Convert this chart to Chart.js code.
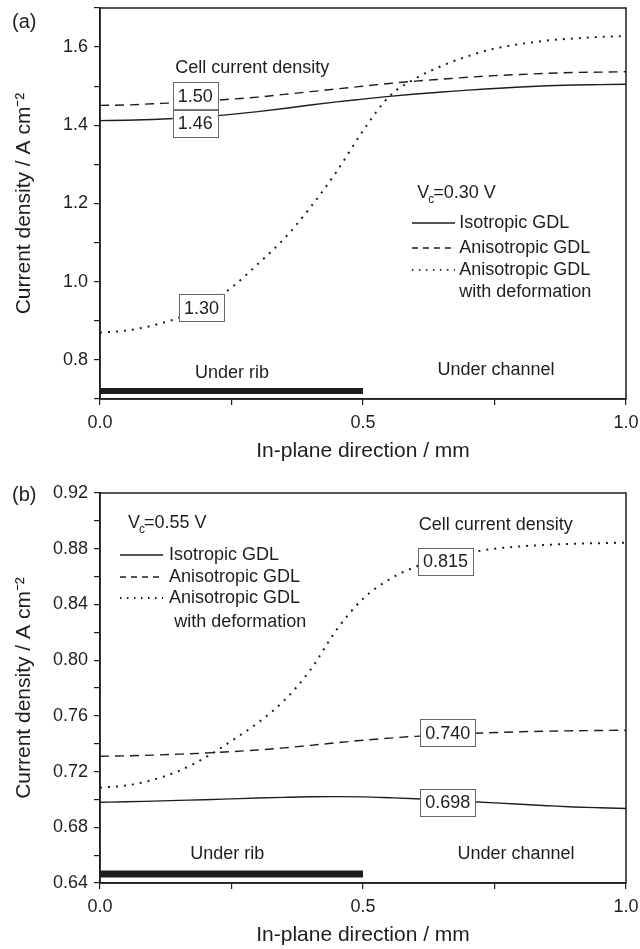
<!DOCTYPE html>
<html>
<head>
<meta charset="utf-8">
<script src="https://cdn.jsdelivr.net/npm/chart.js@4.4.0/dist/chart.umd.min.js"></script>
<style>
    html, body { margin: 0; padding: 0; background: #fff; }
    .panel { position: absolute; left: 0; width: 640px; }
    #wrapA { top: 0; height: 475px; }
    #wrapB { top: 475px; height: 474px; }
</style>
</head>
<body>
<div class="panel" id="wrapA"><canvas id="chartA" width="640" height="475"></canvas></div>
<div class="panel" id="wrapB"><canvas id="chartB" width="640" height="474"></canvas></div>
<script>
// in-plane position (mm), shared by every curve
var xPos = [0, 0.05, 0.1, 0.15, 0.2, 0.25, 0.3, 0.35, 0.4, 0.45, 0.5,
            0.55, 0.6, 0.65, 0.7, 0.75, 0.8, 0.85, 0.9, 0.95, 1.0];

// (a) Vc = 0.30 V
var isoA = [1.412, 1.413, 1.415, 1.418, 1.422, 1.428, 1.435, 1.443, 1.452, 1.460, 1.467,
            1.474, 1.480, 1.485, 1.490, 1.494, 1.498, 1.501, 1.503, 1.504, 1.505];
var anisoA = [1.451, 1.452, 1.455, 1.458, 1.462, 1.467, 1.472, 1.479, 1.486, 1.493, 1.500,
              1.507, 1.513, 1.518, 1.523, 1.527, 1.530, 1.533, 1.535, 1.536, 1.537];
var deformA = [0.870, 0.875, 0.888, 0.908, 0.940, 0.985, 1.045, 1.110, 1.190, 1.282, 1.386,
               1.474, 1.520, 1.552, 1.577, 1.596, 1.608, 1.617, 1.622, 1.626, 1.628];

// (b) Vc = 0.55 V
var isoB = [0.6980, 0.6983, 0.6988, 0.6993, 0.6998, 0.7004, 0.7010, 0.7015, 0.7019, 0.7020, 0.7018,
            0.7012, 0.7005, 0.6995, 0.6985, 0.6975, 0.6965, 0.6955, 0.6946, 0.6940, 0.6935];
var anisoB = [0.7310, 0.7313, 0.7318, 0.7325, 0.7333, 0.7343, 0.7355, 0.7370, 0.7388, 0.7407, 0.7425,
              0.7440, 0.7453, 0.7464, 0.7473, 0.7480, 0.7486, 0.7490, 0.7493, 0.7495, 0.7497];
var deformB = [0.7085, 0.7100, 0.7140, 0.7205, 0.7300, 0.7420, 0.7550, 0.7710, 0.7930, 0.8220, 0.8440,
               0.8580, 0.8670, 0.8730, 0.8770, 0.8800, 0.8817, 0.8828, 0.8835, 0.8840, 0.8843];

// rib region (mm)
var ribX = [0, 0.5];

// cell-average values shown in boxes
var cellA = ['1.50', '1.46', '1.30'];
var cellB = ['0.815', '0.740', '0.698'];

var seriesNames = ['Isotropic GDL', 'Anisotropic GDL', 'Anisotropic GDL', 'with deformation'];

var INK = '#1e1e1e';
var FONT = '"Liberation Sans", Arial, sans-serif';

function pts(ys) {
    return xPos.map(function(x, i) { return { x: x, y: ys[i] }; });
}

// frame, labels, boxes and the hand-placed legend
var notesPlugin = {
    id: 'notes',
    afterDatasetsDraw: function(chart, args, opts) {
        var ctx = chart.ctx;
        var xs = chart.scales.x, ys = chart.scales.y;
        var a = chart.chartArea;
        ctx.save();
        ctx.strokeStyle = INK;
        ctx.lineWidth = 1.5;
        ctx.setLineDash([]);
        ctx.strokeRect(a.left, a.top, a.right - a.left, a.bottom - a.top);

        ctx.fillStyle = INK;
        ctx.textBaseline = 'middle';
        (opts.items || []).forEach(function(it) {
            var px = it.px !== undefined ? it.px : xs.getPixelForValue(it.x);
            var py = it.py !== undefined ? it.py : ys.getPixelForValue(it.y);
            ctx.font = (it.size || 18) + 'px ' + FONT;
            if (it.type === 'text') {
                ctx.textAlign = it.align || 'left';
                ctx.fillText(it.text, px, py);
            } else if (it.type === 'box') {
                var tw = ctx.measureText(it.text).width;
                var w = tw + 10, h = 27;
                ctx.fillStyle = '#fff';
                ctx.fillRect(px - w / 2, py - h / 2, w, h);
                ctx.strokeStyle = '#666';
                ctx.lineWidth = 1;
                ctx.strokeRect(Math.round(px - w / 2) + 0.5, Math.round(py - h / 2) + 0.5, Math.round(w), h);
                ctx.fillStyle = INK;
                ctx.textAlign = 'center';
                ctx.fillText(it.text, px, py + 1);
            } else if (it.type === 'volt') {
                ctx.textAlign = 'left';
                ctx.fillText('V', px, py);
                var vw = ctx.measureText('V').width;
                ctx.font = '12px ' + FONT;
                ctx.fillText('c', px + vw - 1, py + 7);
                var cw = ctx.measureText('c').width;
                ctx.font = (it.size || 18) + 'px ' + FONT;
                ctx.fillText(it.text, px + vw + cw - 2, py);
            } else if (it.type === 'key') {
                if (it.dash) {
                    ctx.strokeStyle = INK;
                    ctx.lineWidth = it.w || 1.4;
                    ctx.setLineDash(it.dash);
                    ctx.beginPath();
                    ctx.moveTo(xs.getPixelForValue(it.x0), py);
                    ctx.lineTo(xs.getPixelForValue(it.x1), py);
                    ctx.stroke();
                    ctx.setLineDash([]);
                }
                ctx.textAlign = 'left';
                ctx.fillText(it.text, px, py);
            }
        });
        ctx.restore();
    }
};

var DASH_SOLID = [];
var DASH_DASHED = [9, 6];
var DASH_DOTTED = [2, 6];

function makePanel(id, cfg) {
    var datasets = [
        { data: pts(cfg.iso), borderDash: DASH_SOLID },
        { data: pts(cfg.aniso), borderDash: DASH_DASHED },
        { data: pts(cfg.deform), borderDash: DASH_DOTTED, borderWidth: 2 },
        { data: ribX.map(function(x) { return { x: x, y: cfg.ribY }; }),
          borderWidth: cfg.ribWidth, borderDash: [], cubicInterpolationMode: 'default' }
    ];
    datasets.forEach(function(d) {
        d.borderColor = INK;
        d.backgroundColor = INK;
        if (d.borderWidth === undefined) d.borderWidth = 1.4;
        d.pointRadius = 0;
        d.fill = false;
        d.borderCapStyle = 'butt';
        if (!d.cubicInterpolationMode) d.cubicInterpolationMode = 'monotone';
    });

    return new Chart(document.getElementById(id), {
        type: 'line',
        data: { datasets: datasets },
        plugins: [notesPlugin],
        options: {
            responsive: false,
            animation: false,
            layout: { padding: { top: cfg.padTop, right: 14, left: 0, bottom: 0 } },
            plugins: {
                legend: { display: false },
                tooltip: { enabled: false },
                notes: { items: cfg.items }
            },
            scales: {
                x: {
                    type: 'linear',
                    min: 0, max: 1,
                    afterFit: function(s) { s.height = cfg.xHeight; s.paddingLeft = 0; s.paddingRight = 0; },
                    grid: { drawOnChartArea: false, drawTicks: true, tickLength: 6, color: INK, lineWidth: 1.2 },
                    border: { display: true, color: INK, width: 1.5 },
                    ticks: {
                        stepSize: 0.25, padding: 7, color: INK, maxRotation: 0,
                        font: { family: FONT, size: 18 },
                        callback: function(v, i) { return i % 2 === 0 ? v.toFixed(1) : ''; }
                    },
                    title: {
                        display: true, text: 'In-plane direction / mm', color: INK,
                        font: { family: FONT, size: 21 },
                        padding: { top: 0, bottom: cfg.xTitlePad }
                    }
                },
                y: {
                    type: 'linear',
                    min: cfg.yMin, max: cfg.yMax,
                    afterFit: function(s) { s.width = 100; s.paddingTop = 0; s.paddingBottom = 0; },
                    grid: { drawOnChartArea: false, drawTicks: true, tickLength: 6, color: INK, lineWidth: 1.2 },
                    border: { display: true, color: INK, width: 1.5 },
                    ticks: {
                        stepSize: cfg.yStep, padding: 6, color: INK,
                        font: { family: FONT, size: 18 },
                        callback: function(v, i) { return i % 2 === cfg.labelParity ? v.toFixed(cfg.digits) : ''; }
                    },
                    title: {
                        display: true, text: 'Current density / A cm\u207B\u00B2', color: INK,
                        font: { family: FONT, size: 21 },
                        padding: { top: 12, bottom: 0 }
                    }
                }
            }
        }
    });
}

makePanel('chartA', {
    iso: isoA, aniso: anisoA, deform: deformA,
    ribY: 0.7205, ribWidth: 6,
    yMin: 0.7, yMax: 1.7, yStep: 0.1, digits: 1, labelParity: 1,
    padTop: 8, xHeight: 76, xTitlePad: 11,
    items: [
        { type: 'text', text: '(a)', px: 12, py: 22, size: 20 },
        { type: 'text', text: 'Cell current density', x: 0.143, y: 1.547 },
        { type: 'box', text: cellA[0], x: 0.181, y: 1.475 },
        { type: 'box', text: cellA[1], x: 0.181, y: 1.405 },
        { type: 'box', text: cellA[2], x: 0.193, y: 0.933 },
        { type: 'volt', text: '=0.30 V', x: 0.603, y: 1.227 },
        { type: 'key', text: seriesNames[0], dash: DASH_SOLID, x0: 0.593, x1: 0.675, x: 0.683, y: 1.150 },
        { type: 'key', text: seriesNames[1], dash: [6, 5], x0: 0.593, x1: 0.675, x: 0.683, y: 1.086 },
        { type: 'key', text: seriesNames[2], dash: [1.5, 5.5], w: 1.8, x0: 0.593, x1: 0.675, x: 0.683, y: 1.030 },
        { type: 'key', text: seriesNames[3], x: 0.683, y: 0.974 },
        { type: 'text', text: 'Under rib', x: 0.251, y: 0.766, align: 'center' },
        { type: 'text', text: 'Under channel', x: 0.753, y: 0.774, align: 'center' }
    ]
});

makePanel('chartB', {
    iso: isoB, aniso: anisoB, deform: deformB,
    ribY: 0.6465, ribWidth: 7,
    yMin: 0.64, yMax: 0.92, yStep: 0.02, digits: 2, labelParity: 0,
    padTop: 18, xHeight: 66, xTitlePad: 1,
    items: [
        { type: 'text', text: '(b)', px: 12, py: 20, size: 20 },
        { type: 'volt', text: '=0.55 V', x: 0.053, y: 0.8985 },
        { type: 'key', text: seriesNames[0], dash: DASH_SOLID, x0: 0.038, x1: 0.12, x: 0.131, y: 0.8755 },
        { type: 'key', text: seriesNames[1], dash: [6, 5], x0: 0.038, x1: 0.12, x: 0.131, y: 0.8597 },
        { type: 'key', text: seriesNames[2], dash: [1.5, 5.5], w: 1.8, x0: 0.038, x1: 0.12, x: 0.131, y: 0.8446 },
        { type: 'key', text: seriesNames[3], x: 0.141, y: 0.8274 },
        { type: 'text', text: 'Cell current density', x: 0.606, y: 0.897 },
        { type: 'box', text: cellB[0], x: 0.657, y: 0.871 },
        { type: 'box', text: cellB[1], x: 0.661, y: 0.748 },
        { type: 'box', text: cellB[2], x: 0.661, y: 0.698 },
        { type: 'text', text: 'Under rib', x: 0.242, y: 0.661, align: 'center' },
        { type: 'text', text: 'Under channel', x: 0.791, y: 0.661, align: 'center' }
    ]
});
</script>
</body>
</html>
